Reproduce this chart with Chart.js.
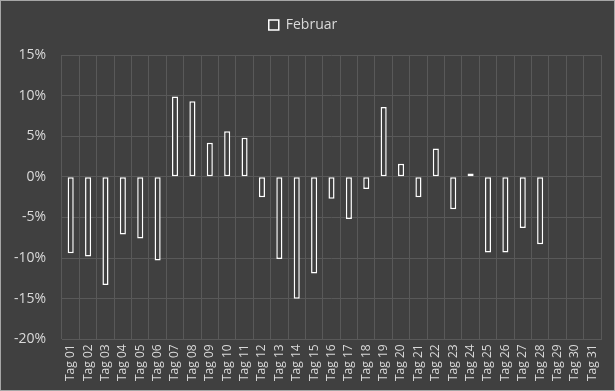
<!DOCTYPE html>
<html>
<head>
<meta charset="utf-8">
<script src="https://cdn.jsdelivr.net/npm/chart.js@4"></script>
<style>
    html, body { margin: 0; padding: 0; background: #404040; }
    #wrap { width: 613px; height: 389px; border: 1px solid #a6a6a6; background: #404040; }
</style>
</head>
<body>
<div id="wrap"><canvas id="chart" width="613" height="389"></canvas></div>
<script>
// Tageswerte Februar (in %)
const days = ['Tag 01', 'Tag 02', 'Tag 03', 'Tag 04', 'Tag 05', 'Tag 06', 'Tag 07', 'Tag 08', 'Tag 09', 'Tag 10',
    'Tag 11', 'Tag 12', 'Tag 13', 'Tag 14', 'Tag 15', 'Tag 16', 'Tag 17', 'Tag 18', 'Tag 19', 'Tag 20',
    'Tag 21', 'Tag 22', 'Tag 23', 'Tag 24', 'Tag 25', 'Tag 26', 'Tag 27', 'Tag 28', 'Tag 29', 'Tag 30', 'Tag 31'];
const februar = [-9.4, -9.8, -13.3, -7.1, -7.6, -10.3, 9.9, 9.3, 4.2, 5.6,
    4.8, -2.5, -10.1, -15.0, -11.9, -2.7, -5.2, -1.5, 8.6, 1.6,
    -2.5, 3.5, -4.0, 0.4, -9.3, -9.3, -6.3, -8.3, null, null, null];
const yTicks = [-20, -15, -10, -5, 0, 5, 10, 15];

(() => {
    const textColor = '#d9d9d9';
    const gridColor = '#595959';

    // etwas mehr Abstand unter der Legende
    const legendGap = {
        id: 'legendGap',
        beforeInit(chart) {
            const fit = chart.legend.fit;
            chart.legend.fit = function () {
                fit.bind(chart.legend)();
                this.height += 13;
            };
        }
    };

    const ctx = document.getElementById('chart').getContext('2d');
    new Chart(ctx, {
        type: 'bar',
        data: {
            labels: days,
            datasets: [{
                label: 'Februar',
                data: februar,
                backgroundColor: '#404040',
                borderColor: '#ffffff',
                borderWidth: 1.5,
                borderSkipped: false,
                barPercentage: 0.35,
                categoryPercentage: 1
            }]
        },
        plugins: [legendGap],
        options: {
            responsive: false,
            animation: false,
            layout: { padding: { top: 5, right: 13, left: 4, bottom: 4 } },
            font: { family: 'Open Sans' },
            plugins: {
                legend: {
                    position: 'top',
                    labels: {
                        color: textColor,
                        boxWidth: 10,
                        boxHeight: 10,
                        padding: 12,
                        font: { family: 'Open Sans', size: 14 }
                    }
                },
                tooltip: { enabled: false }
            },
            scales: {
                x: {
                    grid: { color: gridColor, drawTicks: false },
                    border: { color: gridColor },
                    ticks: {
                        color: textColor,
                        autoSkip: false,
                        minRotation: 90,
                        maxRotation: 90,
                        padding: 5,
                        font: { family: 'Open Sans', size: 12 }
                    }
                },
                y: {
                    min: yTicks[0],
                    max: yTicks[yTicks.length - 1],
                    afterBuildTicks: (axis) => { axis.ticks = yTicks.map(v => ({ value: v })); },
                    afterFit: (axis) => { axis.width = 57; },
                    grid: { color: gridColor, drawTicks: false },
                    border: { display: false },
                    ticks: {
                        color: textColor,
                        padding: 16,
                        font: { family: 'Open Sans', size: 14 },
                        callback: (v) => v + '%'
                    }
                }
            }
        }
    });
})();
</script>
</body>
</html>
